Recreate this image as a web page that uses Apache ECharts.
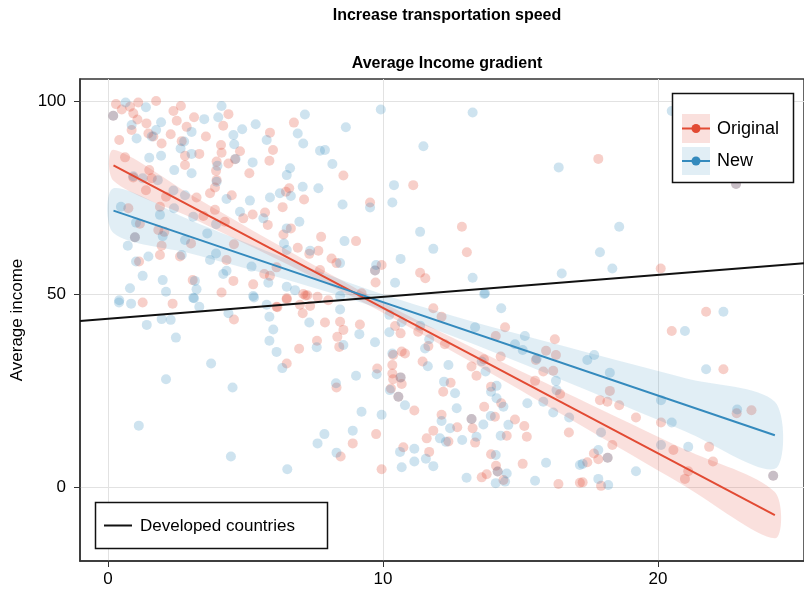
<!DOCTYPE html>
<html>
<head>
<meta charset="utf-8">
<script src="https://cdn.jsdelivr.net/npm/echarts@6/dist/echarts.min.js"></script>
<style>
  html, body { margin: 0; padding: 0; background: #fff; }
  #chart { width: 804px; height: 595px; }
</style>
</head>
<body>
<div id="chart"></div>
<script>
// Scatter observations: [distance, average income]
const originalPoints = [
  [0.19,96.2],[0.29,99.2],[0.5,97.8],[0.8,98.5],[1.1,99.6],[1.75,100],[0.92,96.8],[1.07,95.2],[0.86,92.5],[1.4,94.2],
  [1.47,91.6],[0.41,89.9],[1.65,90.8],[1.95,89],[2.38,97.4],[2.65,98.7],[2.5,94.9],[3.13,95.8],[2.86,93.3],[2.68,89.6],
  [2.28,91.4],[3.56,90.8],[2.8,85.8],[2.8,83.4],[3.32,86.3],[4.11,88.6],[4.13,86.6],[4.38,96.6],[4.19,93.6],[4.8,87],
  [3.95,84.3],[4.38,83.8],[3.93,81.9],[5.14,81.3],[5.87,84.5],[6.0,87.3],[5.89,91.8],[6.76,94.4],[0.62,85.4],[1.5,82.1],
  [1.59,80],[1.38,76.9],[0.92,80.2],[3.95,79.5],[3.89,77.6],[3.71,76.1],[3.22,75],[4.5,75.6],[2.11,75.2],[1.89,72.6],
  [0.74,72.2],[3.47,70.2],[3.89,71.8],[4.25,68.7],[4.92,69.6],[5.26,70.6],[5.71,71.1],[5.81,67.9],[6.35,72.5],[6.38,65.4],
  [6.59,77.4],[7.13,74.5],[1.16,68.2],[1.83,66.6],[2.05,66.1],[1.95,62.5],[1.89,60.1],[3.02,63.1],[2.62,59.7],[4.31,58.8],
  [4.58,62.9],[1.13,58.4],[3.08,53.6],[4.56,53.4],[5.28,52.5],[5.68,55.2],[5.89,54.7],[6.9,62],[7.65,61.2],[7.75,64.8],
  [7.71,56.2],[4.13,50.4],[7.1,50],[4.62,84.9],[6.47,76.5],[6.65,67],[7.32,60.4],[6.13,56.9],[7.25,49.7],[8.01,48.4],
  [6.5,48.6],[6.13,46.7],[6.98,47.2],[0.98,64.7],
  [1.26,47.8],[2.35,47.5],[4.58,43.4],[6.16,46.6],[6.5,48.9],[6.5,32],[7.08,45],[7.35,46.9],[7.18,49.6],[7.62,49.3],
  [7.89,42.6],[7.6,37.9],[6.95,35.8],
  [8.56,80.7],[11.1,78.2],[9.53,73.7],[12.87,67.4],[9.02,63.7],[13.05,60.8],[8.13,59.2],[8.31,58],[9.95,57.5],[9.71,56.1],
  [9.73,53],[11.35,55.5],[11.54,54.1],[9.22,50.2],
  [17.83,85],[22.84,78.5],[20.1,56.6],
  [8.44,42.8],[8.56,40.7],[8.34,38.9],[8.41,36.3],[9.16,42.1],[8.31,25.8],[9.79,30.7],[9.75,13.7],[8.9,11.3],[8.46,7.9],
  [9.95,4.6],[10.37,34.2],[10.34,31.6],[10.34,29.4],[10.37,27.9],[10.68,26.7],[10.68,35.1],[10.8,34.6],[10.64,39.8],[10.44,41.7],
  [10.29,25.5],[10.64,28.4],[10.56,23.4],[11.14,19.8],[10.74,10.3],[11.28,40.2],[11.44,32.5],[11.65,36.5],[11.83,46.3],[12.13,44.1],
  [12.25,37],[11.68,9.1],[11.59,12.6],[11.83,14.6],[12.13,18.7],[12.38,11.8],[12.46,27],[12.19,24.7],[12.7,15.5],[13.22,31.2],
  [13.4,28.8],[13.67,33.1],[13.22,17.6],[13.26,15.2],[13.35,11.5],[13.93,26],[13.68,20.8],[14.07,18.2],[13.93,8.5],[14.11,5.5],
  [14.17,4],[13.77,3.3],[13.59,2.5],[14.38,1.8],[14.3,21.7],[14.5,13.3],[14.8,17.5],[15.14,15.8],[15.23,13],[14.28,33.8],
  [14.1,39.1],[14.44,41.4],[15.08,6],[15.83,29.9],[15.53,27.5],[16.19,30.1],[15.93,35.3],[16.29,34.2],[16.25,38.3],[15.56,32.9],
  [16.44,24.1],[16.76,14.1],[16.38,0.8],[17.16,1.1],
  [21.75,45.4],[20.5,40.4],[22.38,30.5],[22.86,19.1],[23.4,19.9],[18.25,24.9],[17.89,22.5],[18.16,22.1],[18.59,21.2],[19.2,18],
  [20.11,16.7],[20.56,9.6],[21.86,10.4],[22,6.6],[21.1,4.1],[20.98,2.1],[18.34,10.9],[17.67,8.7],[17.83,7.2],[17.43,6.4],
  [18.17,7.6],[17.26,1.2],[17.93,0.3],[24.19,2.9]
];

const newPoints = [
  [0.19,96.2],[0.64,99.6],[1.38,98.4],[0.86,93.8],[1.04,90.3],[1.75,92.5],[1.93,94.5],[1.59,90.8],[1.93,85.8],[1.5,85.3],
  [3.04,92],[2.77,89.5],[2.64,87.7],[3.04,86.3],[3.5,95.3],[4.01,95.8],[4.13,98.7],[4.56,91.2],[4.59,88.8],[4.88,92.7],
  [4.64,85],[5.37,94],[5.26,84.1],[5.77,89.9],[7.16,96.5],[6.9,91.6],[7.1,89],[7.71,87.1],[7.89,87.3],[6.62,82.6],
  [6.5,80.8],[7.08,77.8],[7.65,77.4],[6.25,76.1],[5.89,75],[4.31,74.6],[5.16,74.2],[4.8,71.3],[3.98,83.2],[3.95,79.1],
  [3.04,81.3],[2.41,82.1],[1.81,79.5],[1.26,80],[2.8,75.6],[2.38,76.8],[2.4,72.2],[1.89,70.5],[3.1,70],[3.93,68.1],
  [3.61,65.7],[0.47,72.6],[0.98,64.7],[0.72,62.5],[1.99,65],[2.8,64],[2.68,60.1],[1.47,59.7],[1.02,58.4],[3.71,58.8],
  [3.93,60.5],[4.19,55.2],[4.31,56],[5.22,57.1],[5.83,52.9],[6.4,63.1],[6.5,61.4],[7.35,61.2],[6.5,51.9],[6.8,51],
  [1.26,54.7],[1.99,53.6],[2.11,50.6],[0.8,51.5],[3.16,53.4],[3.22,51.2],[3.1,49],[5.28,49.5],[0.41,48.4],
  [0.92,80.5],[6.65,75.4],[5.65,69.6],[6.96,68.7],[6.5,67],[1.02,68.5],[8.44,46],
  [0.4,47.8],[0.84,47.5],[3.13,48.9],[3.32,46.7],[4.38,45],[5.31,49.1],[5.77,47.2],[5.87,44.1],[6.01,40.8],[5.87,37.9],
  [6.13,35],[6.34,30.8],[1.95,43.5],[2.28,43.3],[1.41,42],[2.47,38.7],[3.75,32],[2.11,27.9],[4.53,25.8],[1.12,15.9],
  [4.47,7.9],[6.52,4.6],[7.87,13.7],[7.62,11.3],[7.32,42.6],[7.59,36.2],
  [9.92,97.8],[8.65,93.2],[8.16,83.7],[13.26,97],[11.47,88.3],[16.39,82.8],[10.4,78.2],[8.53,73.2],[9.53,72.4],[10.34,73.7],
  [11.35,66.1],[8.6,63.7],[11.83,61.7],[10.64,59.1],[8.44,58],[9.75,57.5],[9.71,56.1],[10.44,52.9],[13.26,54.2],[16.5,55.3],
  [13.71,50.2],
  [20.5,97.4],[22.84,78.5],[18.59,67.4],[17.89,60.8],[18.34,56.6],
  [8.44,49.5],[9.14,39.6],[8.56,36.8],[9.71,37.5],[8.29,26.9],[9.02,28.8],[9.77,29.2],[9.22,19.5],[9.95,18.7],[8.9,14.6],
  [8.31,8.9],[10.23,40.1],[10.23,44.6],[10.68,42.7],[10.34,34.6],[10.25,25.1],[10.8,21.2],[10.62,9.1],[10.68,5.1],[11.14,9.9],
  [11.14,6.6],[11.56,7.3],[11.83,5.4],[11.35,41.8],[11.68,38.3],[11.53,35.9],[11.63,31.3],[12.38,31.6],[12.22,27.3],[12.62,24.3],
  [12.68,20.4],[12.13,17.1],[12.44,15.2],[12.07,12.6],[12.29,11.7],[12.88,12.2],[13.22,17.6],[13.4,13],[13.65,16.2],[13.35,41.4],
  [13.73,29.9],[13.59,32.5],[14.13,26.2],[13.93,24.7],[14.13,23],[14.38,20.8],[13.92,18.4],[14.28,13.3],[14.56,16.1],[14.1,8.3],
  [14.5,3.5],[14.1,1],[14.44,1.4],[13.04,2.4],[14.3,46.3],[15.16,39.1],[14.8,37],[15.08,35.5],[15.59,33.3],[15.25,21.7],
  [15.83,22.1],[16.29,27.5],[16.31,25.1],[16.19,19.3],[16.77,18],[15.93,6.3],[15.53,1.6],[17.16,5.7],[13.68,50],[10.64,28.4],
  [10.56,23.4],[14.17,4],
  [17.43,32.9],[17.68,34.2],[18.25,29.6],[20.98,40.4],[22.38,45.4],[21.75,30.5],[20.11,22.5],[20.5,16.7],[20.11,10.9],[21.1,10.4],
  [22.88,20.1],[24.19,2.9],[17.93,14.1],[17.83,9.6],[18.17,7.6],[17.26,6],[17.83,2.1],[18.19,0.5],[19.2,4.1]
];

// Fitted trend lines (endpoints) and their confidence bands
const fitX = [0.2, 24.25];
const originalFit = [83.35, -7.3];
const newFit = [71.6, 13.4];

const bandX = [0.2, 3, 6, 9.5, 13, 17, 21, 24.25];
const originalUpper = [87.35, 75.75, 63.45, 49.6, 37.0, 23.25, 9.65, -1.3];
const originalLower = [79.35, 69.85, 59.55, 47.0, 33.2, 16.75, 0.15, -13.3];
const newUpper = [77.4, 69.1, 60.5, 51.1, 43.4, 35.7, 28.2, 22.1];
const newLower = [65.8, 60.5, 54.7, 47.1, 37.8, 26.3, 14.4, 4.7];

// Reference line for developed countries
const developedX = [-1.018, 25.31];
const developedY = [43.0, 58.0];

// Axis ticks
const xTicks = [0, 10, 20];
const yTicks = [0, 50, 100];

const RED = '#e24a33';
const BLUE = '#348abd';
const FONT = 'Liberation Sans';

function bandSeries(upper, lower, fill) {
  return {
    type: 'custom',
    data: [0],
    silent: true,
    z: 3,
    renderItem: function (params, api) {
      const pts = [];
      for (let i = 0; i < bandX.length; i++) pts.push(api.coord([bandX[i], upper[i]]));
      for (let i = bandX.length - 1; i >= 0; i--) pts.push(api.coord([bandX[i], lower[i]]));
      return { type: 'polygon', shape: { points: pts, smooth: 0.3 }, style: { fill: fill } };
    }
  };
}

const chart = echarts.init(document.getElementById('chart'), null, { renderer: 'canvas' });

chart.setOption({
  animation: false,
  backgroundColor: '#fff',
  textStyle: { fontFamily: FONT },
  title: [
    { text: 'Increase transportation speed', left: 442, top: 3, textAlign: 'center',
      textStyle: { fontFamily: FONT, fontWeight: 'bold', fontSize: 16, color: '#000' } },
    { text: 'Average Income gradient', left: 442, top: 51, textAlign: 'center',
      textStyle: { fontFamily: FONT, fontWeight: 'bold', fontSize: 16, color: '#000' } }
  ],
  grid: { left: 80, top: 79, right: -1, bottom: 34, show: true, borderColor: '#333', borderWidth: 1.5, backgroundColor: 'transparent' },
  xAxis: {
    type: 'value', min: -1.018, max: 25.31,
    axisLine: { show: true, onZero: false, lineStyle: { color: '#333', width: 1.5 } },
    axisTick: { show: true, inside: false, length: 6, customValues: xTicks, lineStyle: { color: '#333' } },
    axisLabel: { customValues: xTicks, fontSize: 17, color: '#000', margin: 10, fontFamily: FONT },
    splitLine: { show: true, lineStyle: { color: '#e2e2e2', width: 1 } }
  },
  yAxis: {
    type: 'value', min: -19.17, max: 105.7,
    name: 'Average income', nameLocation: 'middle', nameGap: 54,
    nameTextStyle: { fontSize: 17, color: '#000', fontFamily: FONT },
    axisLine: { show: true, onZero: false, lineStyle: { color: '#333', width: 1.5 } },
    axisTick: { show: true, inside: false, length: 6, customValues: yTicks, lineStyle: { color: '#333' } },
    axisLabel: { customValues: yTicks, fontSize: 17, color: '#000', margin: 14, fontFamily: FONT },
    splitLine: { show: true, lineStyle: { color: '#e2e2e2', width: 1 } }
  },
  series: [
    { type: 'scatter', name: 'Original', data: originalPoints, symbolSize: 10, z: 2,
      itemStyle: { color: 'rgba(226,74,51,0.33)' } },
    { type: 'scatter', name: 'New', data: newPoints, symbolSize: 10, z: 2,
      itemStyle: { color: 'rgba(52,138,189,0.3)' } },
    bandSeries(originalUpper, originalLower, 'rgba(226,74,51,0.17)'),
    bandSeries(newUpper, newLower, 'rgba(52,138,189,0.15)'),
    { type: 'line', data: fitX.map((x, i) => [x, originalFit[i]]), symbol: 'none', z: 5,
      lineStyle: { color: RED, width: 2 } },
    { type: 'line', data: fitX.map((x, i) => [x, newFit[i]]), symbol: 'none', z: 5,
      lineStyle: { color: BLUE, width: 2 } },
    { type: 'line', data: developedX.map((x, i) => [x, developedY[i]]), symbol: 'none', z: 6,
      lineStyle: { color: '#111', width: 2 } }
  ],
  graphic: [
    // upper-right legend
    { type: 'rect', z: 100, shape: { x: 672.5, y: 93.5, width: 121, height: 89 },
      style: { fill: '#fff', stroke: '#111', lineWidth: 1.5 } },
    { type: 'rect', z: 101, shape: { x: 682, y: 114, width: 28, height: 29 }, style: { fill: 'rgba(226,74,51,0.17)' } },
    { type: 'line', z: 102, shape: { x1: 682, y1: 128.5, x2: 710, y2: 128.5 }, style: { stroke: RED, lineWidth: 2 } },
    { type: 'circle', z: 103, shape: { cx: 696, cy: 128.5, r: 4.5 }, style: { fill: RED } },
    { type: 'text', z: 103, x: 717, y: 129, style: { text: 'Original', font: '18px "Liberation Sans"', fill: '#000', verticalAlign: 'middle' } },
    { type: 'rect', z: 101, shape: { x: 682, y: 147, width: 28, height: 28 }, style: { fill: 'rgba(52,138,189,0.15)' } },
    { type: 'line', z: 102, shape: { x1: 682, y1: 161, x2: 710, y2: 161 }, style: { stroke: BLUE, lineWidth: 2 } },
    { type: 'circle', z: 103, shape: { cx: 696, cy: 161, r: 4.5 }, style: { fill: BLUE } },
    { type: 'text', z: 103, x: 717, y: 161, style: { text: 'New', font: '18px "Liberation Sans"', fill: '#000', verticalAlign: 'middle' } },
    // lower-left legend
    { type: 'rect', z: 100, shape: { x: 95.5, y: 502.5, width: 232, height: 46 },
      style: { fill: '#fff', stroke: '#111', lineWidth: 1.5 } },
    { type: 'line', z: 101, shape: { x1: 104, y1: 525.5, x2: 132, y2: 525.5 }, style: { stroke: '#111', lineWidth: 2 } },
    { type: 'text', z: 101, x: 140, y: 526, style: { text: 'Developed countries', font: '17px "Liberation Sans"', fill: '#000', verticalAlign: 'middle' } }
  ]
});
</script>
</body>
</html>
